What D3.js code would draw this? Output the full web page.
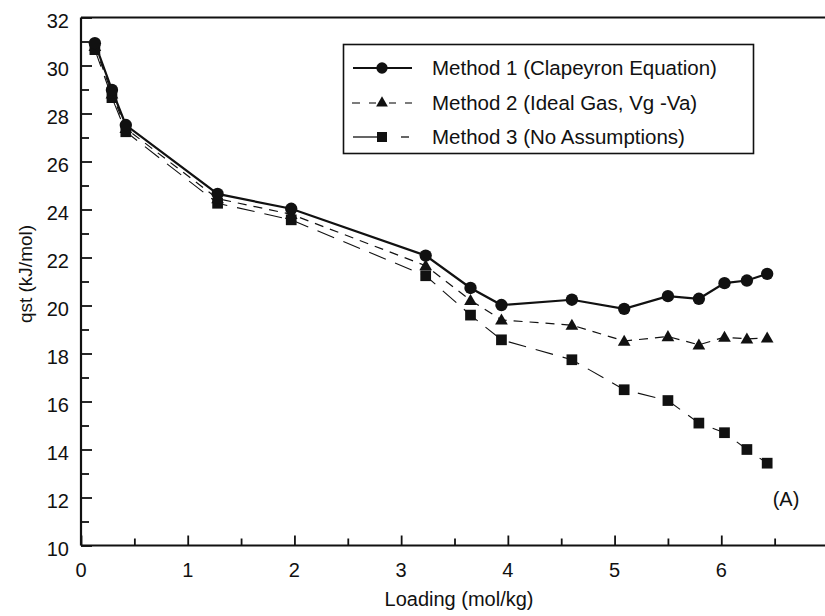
<!DOCTYPE html>
<html>
<head>
<meta charset="utf-8">
<script src="https://cdn.jsdelivr.net/npm/d3@7"></script>
<style>
  html, body { margin: 0; padding: 0; background: #fff; }
  svg text { font-family: "Liberation Sans", Arial, sans-serif; fill: #111; }
</style>
</head>
<body>
<svg id="chart" width="825" height="616"></svg>
<script>
// ---- data ----
const loading = [0.13, 0.29, 0.42, 1.28, 1.97, 3.23, 3.65, 3.94, 4.60, 5.09, 5.50, 5.79, 6.03, 6.24, 6.43];
const method1 = [30.93, 28.98, 27.52, 24.65, 24.03, 22.08, 20.73, 20.02, 20.24, 19.86, 20.39, 20.28, 20.93, 21.04, 21.32];
const method2 = [30.80, 28.82, 27.38, 24.45, 23.80, 21.66, 20.22, 19.40, 19.18, 18.52, 18.71, 18.36, 18.68, 18.61, 18.65];
const method3 = [30.66, 28.66, 27.24, 24.26, 23.57, 21.24, 19.60, 18.57, 17.74, 16.49, 16.04, 15.10, 14.70, 14.00, 13.43];
const seriesNames = ["Method 1 (Clapeyron Equation)", "Method 2 (Ideal Gas, Vg -Va)", "Method 3 (No Assumptions)"];
const xTicks = [0, 1, 2, 3, 4, 5, 6];
const yTicks = [10, 12, 14, 16, 18, 20, 22, 24, 26, 28, 30, 32];
const xLabel = "Loading (mol/kg)";
const yLabel = "qst (kJ/mol)";
const panelLabel = "(A)";

const svg = d3.select("#chart");
const x = d3.scaleLinear().domain([0, 7]).range([81, 828]);
const y = d3.scaleLinear().domain([10, 32]).range([545.5, 17.5]);

// frame (top line + left/bottom axes)
svg.append("line").attr("x1", x(0)).attr("x2", 825).attr("y1", y(32)).attr("y2", y(32))
  .attr("stroke", "#111").attr("stroke-width", 2);

// x axis: ticks pointing inward (up)
const xAxis = svg.append("g").attr("transform", `translate(0,${y(10)})`)
  .call(d3.axisTop(x).tickValues(d3.range(0, 7.01, 0.5)).tickSize(7).tickFormat(""));
xAxis.select(".domain").attr("d", `M${x(0)},0H825`).attr("stroke", "#111").attr("stroke-width", 2.2);
xAxis.selectAll(".tick line").attr("stroke", "#111").attr("stroke-width", 1.8)
  .attr("y2", d => Number.isInteger(d) ? -10 : -7);
svg.append("g").selectAll("text").data(xTicks).join("text")
  .attr("x", d => x(d)).attr("y", 577).attr("text-anchor", "middle")
  .attr("font-size", 20).text(d => d);

// y axis: ticks pointing inward (right)
const yAxis = svg.append("g").attr("transform", `translate(${x(0)},0)`)
  .call(d3.axisRight(y).tickValues(d3.range(10, 32.01, 1)).tickSize(8).tickFormat(""));
yAxis.select(".domain").attr("d", `M0,${y(10)}V${y(32)}`).attr("stroke", "#111").attr("stroke-width", 2.2);
yAxis.selectAll(".tick line").attr("stroke", "#111").attr("stroke-width", 1.8)
  .attr("x2", d => d % 2 === 0 ? 11 : 8);
svg.append("g").selectAll("text").data(yTicks).join("text")
  .attr("x", 69).attr("y", d => y(d) + 10).attr("text-anchor", "end")
  .attr("font-size", 20).text(d => d);

// axis titles
svg.append("text").attr("x", 459).attr("y", 606).attr("text-anchor", "middle")
  .attr("font-size", 20).text(xLabel);
svg.append("text").attr("transform", "translate(32,274) rotate(-90)").attr("text-anchor", "middle")
  .attr("font-size", 19).text(yLabel);

// series
const styles = [
  { vals: method1, dash: null, width: 2.2, marker: "circle" },
  { vals: method2, dash: "9,7", width: 1.2, marker: "triangle" },
  { vals: method3, dash: "18,10", width: 1.1, marker: "square" }
];
const line = d3.line().x(d => x(d[0])).y(d => y(d[1]));
const symbolFor = {
  circle: d3.symbol().type(d3.symbolCircle).size(120),
  triangle: d3.symbol().type(d3.symbolTriangle).size(70),
  square: d3.symbol().type(d3.symbolSquare).size(115)
};

// draw lines first (method 3 underneath)
styles.slice().reverse().forEach(s => {
  const pts = loading.map((l, i) => [l, s.vals[i]]);
  svg.append("path").attr("d", line(pts)).attr("fill", "none")
    .attr("stroke", "#111").attr("stroke-width", s.width)
    .attr("stroke-dasharray", s.dash);
});
styles.slice().reverse().forEach(s => {
  const pts = loading.map((l, i) => [l, s.vals[i]]);
  svg.append("g").selectAll("path").data(pts).join("path")
    .attr("transform", d => `translate(${x(d[0])},${y(d[1]) + (s.marker === "triangle" ? 1 : 0)})`)
    .attr("d", symbolFor[s.marker]()).attr("fill", "#111");
});

// legend
const lg = svg.append("g");
lg.append("rect").attr("x", 343.5).attr("y", 44.5).attr("width", 410).attr("height", 109)
  .attr("fill", "#fff").attr("stroke", "#111").attr("stroke-width", 1.6);
const rowY = [68, 103, 137];
// row 1: solid
lg.append("line").attr("x1", 353).attr("x2", 412).attr("y1", rowY[0]).attr("y2", rowY[0])
  .attr("stroke", "#111").attr("stroke-width", 2);
// row 2: dashes around
[[352, 360], [369, 376], [389, 396], [405, 412]].forEach(seg =>
  lg.append("line").attr("x1", seg[0]).attr("x2", seg[1]).attr("y1", rowY[1]).attr("y2", rowY[1])
    .attr("stroke", "#111").attr("stroke-width", 1.1));
// row 3: long dash then short dash
[[353, 382], [401, 409]].forEach(seg =>
  lg.append("line").attr("x1", seg[0]).attr("x2", seg[1]).attr("y1", rowY[2]).attr("y2", rowY[2])
    .attr("stroke", "#111").attr("stroke-width", 1.3));
styles.forEach((s, i) => {
  lg.append("path").attr("transform", `translate(382,${rowY[i]})`)
    .attr("d", d3.symbol().type(s.marker === "circle" ? d3.symbolCircle : s.marker === "triangle" ? d3.symbolTriangle : d3.symbolSquare)
      .size(s.marker === "triangle" ? 60 : 100)()).attr("fill", "#111");
  lg.append("text").attr("x", 432).attr("y", rowY[i] + 7).attr("font-size", 20.5).text(seriesNames[i]);
});

// panel label
svg.append("text").attr("x", 786).attr("y", 506).attr("text-anchor", "middle")
  .attr("font-size", 20).text(panelLabel);
</script>
</body>
</html>
